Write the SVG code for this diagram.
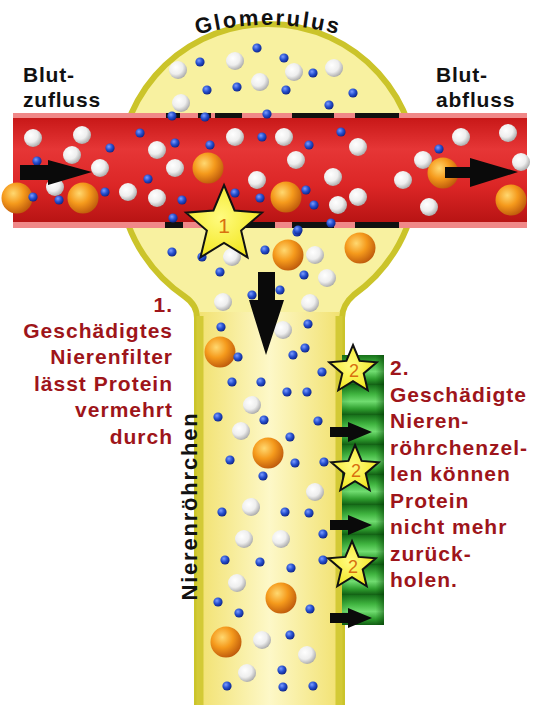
<svg xmlns="http://www.w3.org/2000/svg" xmlns:xlink="http://www.w3.org/1999/xlink" width="536" height="705" viewBox="0 0 536 705">
  <style>
    .lbl { font-family: "Liberation Sans", Arial, sans-serif; font-weight: bold; fill: #111; }
    .red { font-family: "Liberation Sans", Arial, sans-serif; font-weight: bold; fill: #9e151a; font-size: 21px; letter-spacing: 1px; }
    .num { font-family: "Liberation Sans", Arial, sans-serif; fill: #d8700f; text-anchor: middle; }
    .star { fill: url(#gstar); stroke: #111; stroke-width: 2; stroke-linejoin: miter; }
    .arr { fill: #0a0a0a; }
    .dash { fill: #111; }
  </style>
  <defs>
    <radialGradient id="gw" cx="0.38" cy="0.35" r="0.7">
      <stop offset="0" stop-color="#ffffff"/>
      <stop offset="0.55" stop-color="#eeeeee"/>
      <stop offset="1" stop-color="#a4a4a4"/>
    </radialGradient>
    <radialGradient id="gb" cx="0.38" cy="0.35" r="0.7">
      <stop offset="0" stop-color="#7c9cff"/>
      <stop offset="0.5" stop-color="#2650d0"/>
      <stop offset="1" stop-color="#0c2080"/>
    </radialGradient>
    <radialGradient id="go" cx="0.38" cy="0.35" r="0.75">
      <stop offset="0" stop-color="#ffd870"/>
      <stop offset="0.45" stop-color="#f59a1c"/>
      <stop offset="1" stop-color="#b44e08"/>
    </radialGradient>
    <radialGradient id="gstar" cx="0.45" cy="0.45" r="0.6">
      <stop offset="0" stop-color="#fffb80"/>
      <stop offset="1" stop-color="#f2e61c"/>
    </radialGradient>
    <linearGradient id="gred" x1="0" y1="0" x2="0" y2="1">
      <stop offset="0" stop-color="#c81818"/>
      <stop offset="0.3" stop-color="#e63636"/>
      <stop offset="0.65" stop-color="#dc2626"/>
      <stop offset="1" stop-color="#b81414"/>
    </linearGradient>
    <linearGradient id="gtube" x1="0" y1="0" x2="1" y2="0">
      <stop offset="0" stop-color="#f2e272"/>
      <stop offset="0.5" stop-color="#fdf8c8"/>
      <stop offset="1" stop-color="#f2e272"/>
    </linearGradient>
    <linearGradient id="gcell" x1="0" y1="0" x2="0" y2="1">
      <stop offset="0" stop-color="#17701a"/>
      <stop offset="0.3" stop-color="#3fb43f"/>
      <stop offset="0.55" stop-color="#70dc70"/>
      <stop offset="0.8" stop-color="#2e9e2e"/>
      <stop offset="1" stop-color="#125e14"/>
    </linearGradient>
    <linearGradient id="gcellside" x1="0" y1="0" x2="1" y2="0">
      <stop offset="0" stop-color="#004000" stop-opacity="0.15"/>
      <stop offset="0.2" stop-color="#004000" stop-opacity="0"/>
      <stop offset="0.8" stop-color="#004000" stop-opacity="0"/>
      <stop offset="1" stop-color="#003000" stop-opacity="0.45"/>
    </linearGradient>
    <circle id="w" r="9" fill="url(#gw)"/>
    <circle id="b" r="4.6" fill="url(#gb)"/>
    <circle id="o" r="15.5" fill="url(#go)"/>
    <polygon id="star-s" class="star" points="0,-25 6.61,-9.1 23.78,-7.73 10.7,3.48 14.7,20.23 0,11.25 -14.7,20.23 -10.7,3.48 -23.78,-7.73 -6.61,-9.1"/>
    <path id="glom-arc" d="M150,52.2 A270,270 0 0 1 386,52.2"/>
  </defs>

  <rect width="536" height="705" fill="#ffffff"/>

  <!-- glomerulus capsule joined to the renal tubule -->
  <g id="glomerulus">
    <path d="M197,712 L197,318 Q197,305 185,296.7 A149,149 0 1 1 354,294.7 Q342,305 342,318 L342,712 Z" fill="#f8f1a0" stroke="#cbc42a" stroke-width="6"/>
  </g>
  <g id="tubule">
    <rect x="200" y="312" width="139" height="400" fill="url(#gtube)"/>
    <line x1="200" y1="316" x2="200" y2="705" stroke="#d3ca36" stroke-width="7"/>
    <line x1="339" y1="316" x2="339" y2="705" stroke="#d3ca36" stroke-width="7"/>
  </g>

  <!-- particles in capsule and tubule -->
  <g id="filtrate-particles">
    <use href="#w" x="178" y="70"/><use href="#w" x="235" y="61"/><use href="#w" x="260" y="82"/>
    <use href="#w" x="294" y="72"/><use href="#w" x="334" y="68"/><use href="#w" x="181" y="103"/>
    <use href="#b" x="200" y="62"/><use href="#b" x="257" y="48"/><use href="#b" x="284" y="58"/>
    <use href="#b" x="313" y="73"/><use href="#b" x="207" y="90"/><use href="#b" x="237" y="87"/>
    <use href="#b" x="286" y="90"/><use href="#b" x="353" y="93"/><use href="#b" x="329" y="105"/>

    <use href="#w" x="232" y="257"/><use href="#w" x="315" y="255"/><use href="#w" x="327" y="278"/>
    <use href="#w" x="223" y="302"/><use href="#w" x="310" y="303"/><use href="#w" x="283" y="330"/>
    <use href="#o" x="288" y="255"/><use href="#o" x="360" y="248"/><use href="#o" x="220" y="352"/>
    <use href="#b" x="172" y="252"/><use href="#b" x="202" y="257"/><use href="#b" x="265" y="250"/>
    <use href="#b" x="297" y="232"/><use href="#b" x="220" y="272"/><use href="#b" x="304" y="275"/>
    <use href="#b" x="252" y="295"/><use href="#b" x="280" y="290"/><use href="#b" x="221" y="327"/>
    <use href="#b" x="308" y="324"/><use href="#b" x="238" y="357"/><use href="#b" x="293" y="355"/>
    <use href="#b" x="305" y="348"/><use href="#b" x="322" y="372"/><use href="#b" x="232" y="382"/>
    <use href="#b" x="261" y="382"/><use href="#b" x="287" y="392"/><use href="#b" x="307" y="392"/>

    <use href="#w" x="252" y="405"/><use href="#w" x="241" y="431"/><use href="#w" x="315" y="492"/>
    <use href="#w" x="251" y="507"/><use href="#w" x="244" y="539"/><use href="#w" x="281" y="539"/>
    <use href="#w" x="237" y="583"/><use href="#w" x="262" y="640"/><use href="#w" x="307" y="655"/>
    <use href="#w" x="247" y="673"/>
    <use href="#o" x="268" y="453"/><use href="#o" x="281" y="598"/><use href="#o" x="226" y="642"/>
    <use href="#b" x="218" y="417"/><use href="#b" x="264" y="420"/><use href="#b" x="318" y="421"/>
    <use href="#b" x="290" y="437"/><use href="#b" x="230" y="460"/><use href="#b" x="295" y="463"/>
    <use href="#b" x="324" y="462"/><use href="#b" x="263" y="476"/><use href="#b" x="222" y="512"/>
    <use href="#b" x="285" y="512"/><use href="#b" x="309" y="513"/><use href="#b" x="323" y="534"/>
    <use href="#b" x="225" y="560"/><use href="#b" x="260" y="562"/><use href="#b" x="291" y="568"/>
    <use href="#b" x="323" y="560"/><use href="#b" x="218" y="602"/><use href="#b" x="239" y="613"/>
    <use href="#b" x="310" y="609"/><use href="#b" x="290" y="635"/><use href="#b" x="282" y="670"/>
    <use href="#b" x="227" y="686"/><use href="#b" x="283" y="687"/><use href="#b" x="313" y="686"/>
  </g>

  <!-- blood vessel with fenestrated wall inside the capsule -->
  <g id="vessel">
    <rect x="13" y="113" width="514" height="115" fill="#f08888"/>
    <rect x="13" y="118" width="514" height="104" fill="url(#gred)"/>
    <rect class="dash" x="166" y="113" width="14" height="5"/>
    <rect class="dash" x="198" y="113" width="13" height="5"/>
    <rect class="dash" x="215" y="113" width="27" height="5"/>
    <rect class="dash" x="292" y="113" width="42" height="5"/>
    <rect class="dash" x="355" y="113" width="44" height="5"/>
    <rect class="dash" x="165" y="222" width="18" height="6"/>
    <rect class="dash" x="240" y="222" width="35" height="6"/>
    <rect class="dash" x="292" y="222" width="42" height="6"/>
    <rect class="dash" x="355" y="222" width="44" height="6"/>
  </g>

  <g id="blood-particles">
    <use href="#w" x="33" y="138"/><use href="#w" x="82" y="135"/><use href="#w" x="72" y="155"/>
    <use href="#w" x="100" y="168"/><use href="#w" x="157" y="150"/><use href="#w" x="175" y="168"/>
    <use href="#w" x="128" y="192"/><use href="#w" x="157" y="198"/><use href="#w" x="55" y="187"/>
    <use href="#w" x="235" y="137"/><use href="#w" x="257" y="180"/><use href="#w" x="284" y="137"/>
    <use href="#w" x="296" y="160"/><use href="#w" x="333" y="177"/><use href="#w" x="338" y="205"/>
    <use href="#w" x="358" y="197"/><use href="#w" x="358" y="147"/><use href="#w" x="403" y="180"/>
    <use href="#w" x="423" y="160"/><use href="#w" x="461" y="137"/><use href="#w" x="429" y="207"/>
    <use href="#w" x="508" y="133"/><use href="#w" x="521" y="162"/>
    <use href="#o" x="17" y="198"/><use href="#o" x="83" y="198"/><use href="#o" x="208" y="168"/>
    <use href="#o" x="286" y="197"/><use href="#o" x="443" y="173"/><use href="#o" x="511" y="200"/>
    <use href="#b" x="110" y="148"/><use href="#b" x="140" y="133"/><use href="#b" x="175" y="143"/>
    <use href="#b" x="37" y="161"/><use href="#b" x="33" y="197"/><use href="#b" x="59" y="200"/>
    <use href="#b" x="105" y="192"/><use href="#b" x="148" y="179"/><use href="#b" x="182" y="200"/>
    <use href="#b" x="173" y="218"/><use href="#b" x="210" y="145"/><use href="#b" x="262" y="137"/>
    <use href="#b" x="235" y="193"/><use href="#b" x="260" y="198"/><use href="#b" x="309" y="145"/>
    <use href="#b" x="306" y="190"/><use href="#b" x="314" y="205"/><use href="#b" x="341" y="132"/>
    <use href="#b" x="439" y="149"/><use href="#b" x="331" y="223"/><use href="#b" x="298" y="230"/>
    <use href="#b" x="172" y="116"/><use href="#b" x="205" y="117"/><use href="#b" x="267" y="114"/>
  </g>

  <!-- tubule cells along the right wall -->
  <g id="tubule-cells">
    <rect x="342" y="355" width="42" height="30" fill="url(#gcell)"/>
    <rect x="342" y="385" width="42" height="30" fill="url(#gcell)"/>
    <rect x="342" y="415" width="42" height="30" fill="url(#gcell)"/>
    <rect x="342" y="445" width="42" height="30" fill="url(#gcell)"/>
    <rect x="342" y="475" width="42" height="30" fill="url(#gcell)"/>
    <rect x="342" y="505" width="42" height="30" fill="url(#gcell)"/>
    <rect x="342" y="535" width="42" height="30" fill="url(#gcell)"/>
    <rect x="342" y="565" width="42" height="30" fill="url(#gcell)"/>
    <rect x="342" y="595" width="42" height="30" fill="url(#gcell)"/>
    <rect x="342" y="355" width="42" height="270" fill="url(#gcellside)"/>
  </g>

  <!-- flow arrows -->
  <g id="connectors">
    <path class="arr" d="M20,165 L48,165 L48,160 L92,172 L48,185 L48,180 L20,180 Z"/>
    <path class="arr" d="M445,167 L470,167 L470,158 L518,172 L470,187 L470,178 L445,178 Z"/>
    <path class="arr" d="M258,272 L275,272 L275,300 L284,300 L266,355 L249,300 L258,300 Z"/>
    <path class="arr" d="M330,427 L348,427 L348,422 L372,432 L348,442 L348,437 L330,437 Z"/>
    <path class="arr" d="M330,520 L348,520 L348,515 L372,525 L348,535 L348,530 L330,530 Z"/>
    <path class="arr" d="M330,613 L348,613 L348,608 L372,618 L348,628 L348,623 L330,623 Z"/>
  </g>

  <!-- damage markers -->
  <g id="marker-1">
    <polygon class="star" points="224,185 234.58,210.44 262.04,212.64 241.12,230.56 247.51,257.36 224,243 200.49,257.36 206.88,230.56 185.96,212.64 213.42,210.44"/>
    <text class="num" x="224" y="233" font-size="21">1</text>
  </g>
  <g id="marker-2a">
    <use href="#star-s" x="353" y="370"/>
    <text class="num" x="354" y="377" font-size="18">2</text>
  </g>
  <g id="marker-2b">
    <use href="#star-s" x="355" y="470"/>
    <text class="num" x="356" y="477" font-size="18">2</text>
  </g>
  <g id="marker-2c">
    <use href="#star-s" x="352" y="566"/>
    <text class="num" x="353" y="573" font-size="18">2</text>
  </g>

  <!-- labels -->
  <g id="label-glomerulus">
    <text class="lbl" font-size="22" letter-spacing="2.2" text-anchor="middle"><textPath href="#glom-arc" startOffset="50%">Glomerulus</textPath></text>
  </g>
  <g id="label-inflow">
    <text class="lbl" font-size="21" letter-spacing="0.8" x="23" y="82">Blut-</text>
    <text class="lbl" font-size="21" letter-spacing="0.8" x="23" y="107">zufluss</text>
  </g>
  <g id="label-outflow">
    <text class="lbl" font-size="21" letter-spacing="0.8" x="436" y="82">Blut-</text>
    <text class="lbl" font-size="21" letter-spacing="0.8" x="436" y="107">abfluss</text>
  </g>
  <g id="label-tubule">
    <text class="lbl" font-size="22" letter-spacing="1.8" text-anchor="middle" transform="translate(196.5,506) rotate(-90)">Nierenröhrchen</text>
  </g>
  <g id="note-1" text-anchor="end">
    <text class="red" x="173" y="312">1.</text>
    <text class="red" x="173" y="338">Geschädigtes</text>
    <text class="red" x="173" y="364">Nierenfilter</text>
    <text class="red" x="173" y="391">lässt Protein</text>
    <text class="red" x="173" y="417">vermehrt</text>
    <text class="red" x="173" y="444">durch</text>
  </g>
  <g id="note-2">
    <text class="red" x="390" y="375">2.</text>
    <text class="red" x="390" y="401.5">Geschädigte</text>
    <text class="red" x="390" y="428">Nieren-</text>
    <text class="red" x="390" y="454.5">röhrchenzel-</text>
    <text class="red" x="390" y="481">len können</text>
    <text class="red" x="390" y="507.5">Protein</text>
    <text class="red" x="390" y="534">nicht mehr</text>
    <text class="red" x="390" y="560.5">zurück-</text>
    <text class="red" x="390" y="587">holen.</text>
  </g>
</svg>
